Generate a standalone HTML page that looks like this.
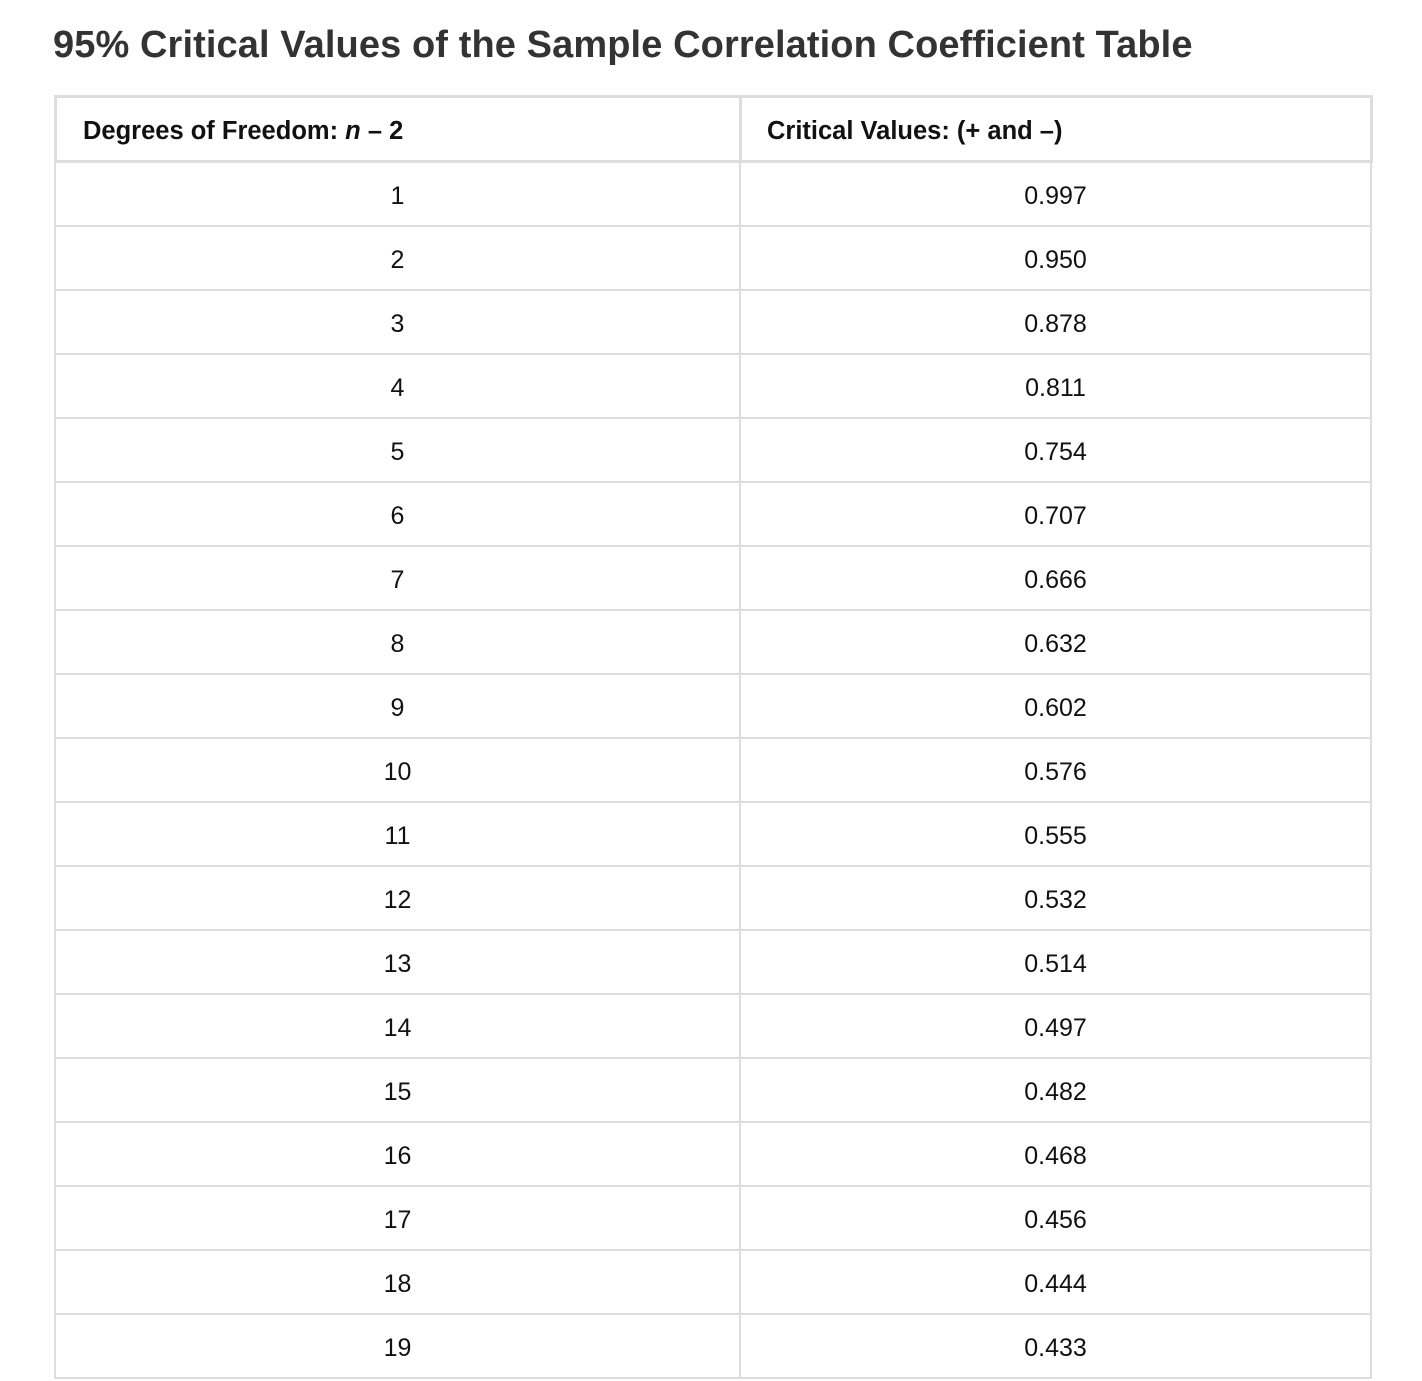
<!DOCTYPE html>
<html><head><meta charset="utf-8"><style>
body{margin:0;background:#fff;width:1422px;height:1380px;overflow:hidden;font-family:"Liberation Sans",Arial,sans-serif;position:relative}
h1{position:absolute;left:53px;top:24px;margin:0;font-size:38px;font-weight:bold;color:#333;letter-spacing:0.1px;white-space:nowrap}
.hdr{position:absolute;left:54px;top:95px;width:1313px;height:62px;border:3px solid #ddd}
.hdr .c{position:absolute;top:0;height:62px;line-height:66px;font-size:25.5px;font-weight:bold;color:#111;white-space:nowrap}
.hdr .div{position:absolute;left:682px;top:0;width:3px;height:62px;background:#ddd}
.row{position:absolute;left:54px;width:1318px;height:64px;border-left:2px solid #ddd;border-right:2px solid #ddd;border-bottom:2px solid #ddd;box-sizing:border-box}
.row .a,.row .b{position:absolute;top:0;height:62px;line-height:66px;font-size:25px;color:#111;text-align:center}
.row .a{left:0;width:683px;border-right:2px solid #ddd}
.row .b{left:685px;width:629px}
</style></head><body>
<h1>95% Critical Values of the Sample Correlation Coefficient Table</h1>
<div class="hdr">
<div class="c" style="left:26px">Degrees of Freedom: <i>n</i> – 2</div>
<div class="div"></div>
<div class="c" style="left:710px">Critical Values: (+ and –)</div>
</div>
<div id="body"></div>
<script>
const dfs=[1,2,3,4,5,6,7,8,9,10,11,12,13,14,15,16,17,18,19];
const vals=["0.997","0.950","0.878","0.811","0.754","0.707","0.666","0.632","0.602","0.576","0.555","0.532","0.514","0.497","0.482","0.468","0.456","0.444","0.433"];
const body=document.getElementById('body');
dfs.forEach((d,i)=>{
  const r=document.createElement('div');
  r.className='row';
  r.style.top=(163+i*64)+'px';
  
  
  const a=document.createElement('div');a.className='a';a.textContent=d;
  
  
  const b=document.createElement('div');b.className='b';b.textContent=vals[i];
  
  
  r.appendChild(a);r.appendChild(b);body.appendChild(r);
});
</script>
</body></html>
